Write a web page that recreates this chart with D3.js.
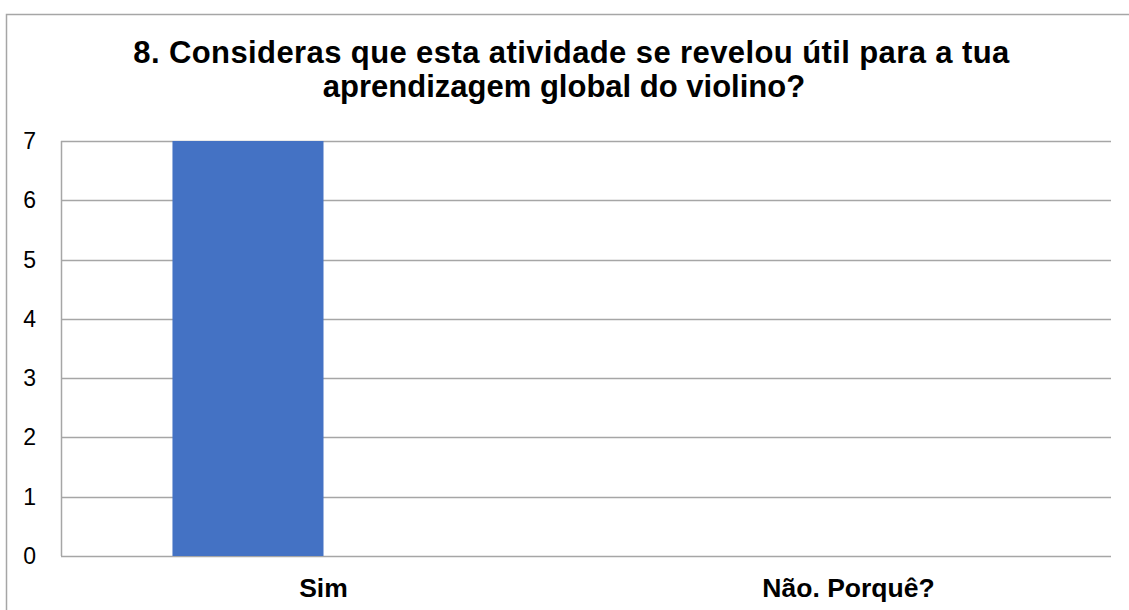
<!DOCTYPE html>
<html lang="pt">
<head>
    <meta charset="utf-8" />
    <title>8. Consideras que esta atividade se revelou útil</title>
    <script src="https://d3js.org/d3.v7.min.js"></script>
    <style>
        body { margin: 0; background: #fff; }
        svg { display: block; font-family: "Liberation Sans", Arial, sans-serif; }
    </style>
</head>
<body>
    <svg></svg>
    <script>
        let width = 1129,
            height = 610;

        // chart data
        const categories = ["Sim", "Não. Porquê?"];
        const seriesNames = ["Série 1", "Série 2"];
        const series1 = [7, 0];
        const series2 = [0, 0];
        const yTicks = [0, 1, 2, 3, 4, 5, 6, 7];
        const titleLines = [
            "8. Consideras que esta atividade se revelou útil para a tua",
            "aprendizagem global do violino?"
        ];

        let svg = d3.select("svg").attr("width", width).attr("height", height);

        let margin = { left: 61, right: 18, top: 141, bottom: 54 };

        // outer chart border (runs off the right and bottom edge)
        svg.append("rect")
            .attr("x", 6.5).attr("y", 14.5)
            .attr("width", width + 10).attr("height", height + 10)
            .attr("fill", "none")
            .attr("stroke", "#a6a6a6")
            .attr("stroke-width", 1.5);

        let x = d3.scaleBand()
            .domain(categories)
            .range([margin.left, width - margin.right])
            .paddingInner(0)
            .paddingOuter(0);

        let xSub = d3.scaleBand()
            .domain(seriesNames)
            .range([0, x.bandwidth()])
            .paddingInner(0)
            .paddingOuter(0.738);

        let y = d3.scaleLinear()
            .domain([0, 7])
            .range([height - margin.bottom, margin.top]);

        // gridlines
        svg.append("g")
            .selectAll("line")
            .data(yTicks)
            .enter()
            .append("line")
            .attr("x1", margin.left)
            .attr("x2", width - margin.right)
            .attr("y1", d => Math.round(y(d)) + 0.5)
            .attr("y2", d => Math.round(y(d)) + 0.5)
            .attr("stroke", "#a6a6a6")
            .attr("stroke-width", 1.5);

        // left axis line
        svg.append("line")
            .attr("x1", margin.left + 0.5).attr("x2", margin.left + 0.5)
            .attr("y1", y(7)).attr("y2", y(0))
            .attr("stroke", "#a6a6a6")
            .attr("stroke-width", 1.5);

        // bars
        let rows = categories.map((c, i) => ({ cat: c, values: [series1[i], series2[i]] }));
        let colors = ["#4472c4", "#ed7d31"];

        svg.append("g")
            .selectAll("g")
            .data(rows)
            .enter()
            .append("g")
            .attr("transform", d => "translate(" + x(d.cat) + ",0)")
            .selectAll("rect")
            .data(d => d.values.map((v, j) => ({ name: seriesNames[j], v: v, j: j })))
            .enter()
            .append("rect")
            .attr("x", d => xSub(d.name))
            .attr("width", xSub.bandwidth())
            .attr("y", d => y(d.v))
            .attr("height", d => y(0) - y(d.v))
            .attr("fill", d => colors[d.j]);

        // y tick labels
        svg.append("g")
            .selectAll("text")
            .data(yTicks)
            .enter()
            .append("text")
            .attr("x", 36)
            .attr("y", d => y(d))
            .attr("dy", "0.35em")
            .attr("text-anchor", "end")
            .attr("font-size", 23)
            .attr("fill", "#000")
            .text(d => d);

        // x category labels
        svg.append("g")
            .selectAll("text")
            .data(categories)
            .enter()
            .append("text")
            .attr("x", d => x(d) + x.bandwidth() / 2)
            .attr("y", 597)
            .attr("text-anchor", "middle")
            .attr("font-size", 26.5)
            .attr("font-weight", "bold")
            .attr("fill", "#000")
            .text(d => d);

        // title
        let titleX = [571.5, 564];
        let titleSpacing = [0.4, 0];
        svg.append("g")
            .selectAll("text")
            .data(titleLines)
            .enter()
            .append("text")
            .attr("x", (d, i) => titleX[i])
            .attr("y", (d, i) => 63 + i * 34)
            .attr("text-anchor", "middle")
            .attr("font-size", 31)
            .attr("letter-spacing", (d, i) => titleSpacing[i])
            .attr("font-weight", "bold")
            .attr("fill", "#000")
            .text(d => d);
    </script>
</body>
</html>
